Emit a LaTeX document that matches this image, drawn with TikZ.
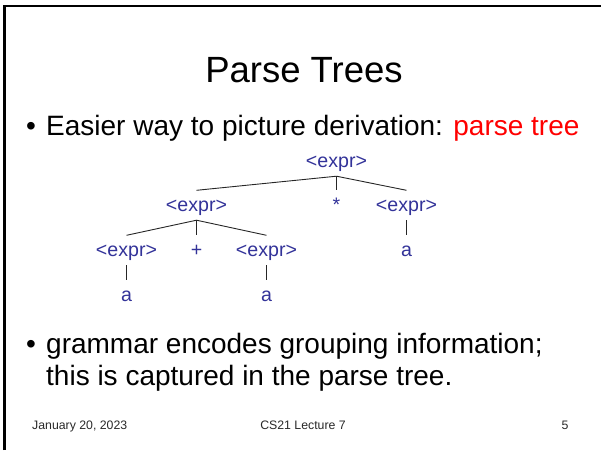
\documentclass[tikz,border=0pt]{standalone}
\usepackage{fontspec}
\setmainfont{Liberation Sans}
\definecolor{treeblue}{RGB}{51,51,153}
\definecolor{footgray}{RGB}{40,40,40}
\begin{document}
\begin{tikzpicture}[x=1pt,y=-1pt,
  sym/.style={font=\fontsize{19.6}{22}\selectfont, text=treeblue, inner xsep=0pt,
    inner ysep=5pt, text height=15.5pt, text depth=4pt, anchor=base},
  edge/.style={draw=black!85, line width=0.9pt},
  body/.style={font=\fontsize{28}{32}\selectfont, inner sep=0pt, anchor=base west},
  bul/.style={body, anchor=base},
  foot/.style={font=\fontsize{12.3}{14}\selectfont, text=footgray, inner sep=0pt}]
\useasboundingbox (0,0) rectangle (601,450);
% slide frame (top and left edges)
\draw[line width=2.5pt, line join=miter] (4.5,450) -- (4.5,6) -- (601,6);

% title
\node[font=\fontsize{36.5}{40}\selectfont, inner sep=0pt, anchor=base] (title) at (304,82) {Parse Trees};

% first bullet
\node[bul] (b1) at (31,135) {•};
\node[body] (l1) at (46,135) {Easier way to picture derivation: \textcolor{red}{parse tree}};

% parse tree
\node[sym] (e0)  at (336.5,167) {<expr>};
\node[sym] (e1)  at (196.5,211) {<expr>};
\node[sym] (st)  at (336.5,211) {*};
\node[sym] (e2)  at (406.5,211) {<expr>};
\node[sym] (e11) at (126.5,256) {<expr>};
\node[sym] (pl)  at (196.5,256) {+};
\node[sym] (e12) at (266.5,256) {<expr>};
\node[sym] (a2)  at (406.5,256) {a};
\node[sym] (a11) at (126.5,301) {a};
\node[sym] (a12) at (266.5,301) {a};

\draw[edge] (e1.north) -- (e0.south) -- (e2.north);
\draw[edge] (e0.south) -- (st.north);
\draw[edge] (e11.north) -- (e1.south) -- (e12.north);
\draw[edge] (e1.south) -- (pl.north);
\draw[edge] (e2.south) -- (a2.north);
\draw[edge] (e11.south) -- (a11.north);
\draw[edge] (e12.south) -- (a12.north);

% second bullet
\node[bul] (b2) at (31,353) {•};
\node[body] (l2) at (46,353) {grammar encodes grouping information;};
\node[body] (l3) at (46,385) {this is captured in the parse tree.};

% footer
\node[foot, anchor=base west] (date) at (32,429) {January 20, 2023};
\node[foot, anchor=base] (course) at (303,429) {CS21 Lecture 7};
\node[foot, anchor=base] (page) at (565,429) {5};
\end{tikzpicture}
\end{document}
